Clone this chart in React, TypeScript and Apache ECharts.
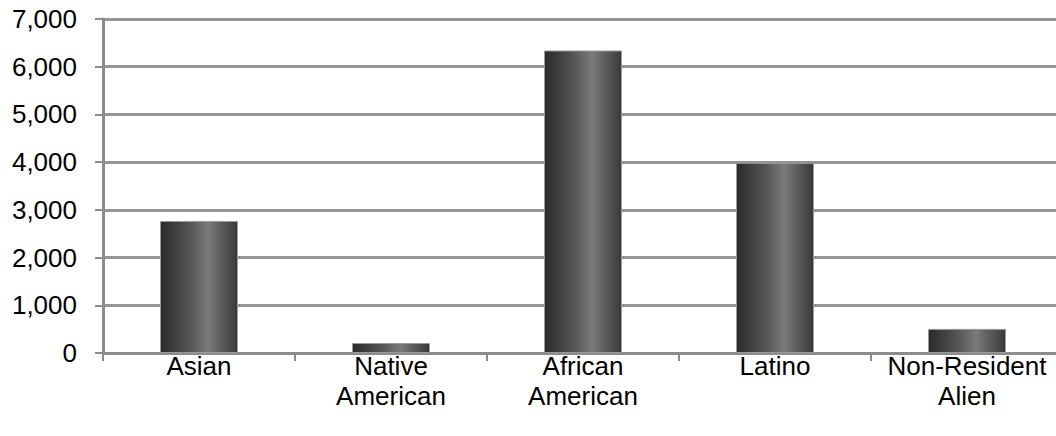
import React, { useEffect, useRef } from "react";
import * as echarts from "echarts";

// Enrollment by group
const categories = ["Asian", "Native\nAmerican", "African\nAmerican", "Latino", "Non-Resident\nAlien"];
const enrollment = [2767, 210, 6340, 3985, 505];
const yTicks = { min: 0, max: 7000, interval: 1000 };

const FONT = "'Liberation Sans', Arial, sans-serif";
const GRID_GRAY = "#8c8c8c";

export default function App() {
  const ref = useRef<HTMLDivElement>(null);

  useEffect(() => {
    if (!ref.current) return;
    const chart = echarts.init(ref.current, null, { renderer: "svg" });
    const barFill = new echarts.graphic.LinearGradient(0, 0, 1, 0, [
      { offset: 0, color: "#2a2a2a" },
      { offset: 0.35, color: "#525252" },
      { offset: 0.62, color: "#7a7a7a" },
      { offset: 0.9, color: "#4a4a4a" },
      { offset: 1, color: "#383838" },
    ]);
    chart.setOption({
      animation: false,
      backgroundColor: "#ffffff",
      grid: { left: 103, right: 7, top: 19, bottom: 83, containLabel: false },
      xAxis: {
        type: "category",
        data: categories,
        axisLine: { show: true, lineStyle: { color: GRID_GRAY, width: 3 } },
        axisTick: { show: true, length: 8, alignWithLabel: false, lineStyle: { color: GRID_GRAY, width: 2 } },
        axisLabel: {
          interval: 0,
          margin: -2,
          color: "#000",
          fontFamily: FONT,
          fontSize: 26,
          lineHeight: 30,
        },
      },
      yAxis: {
        type: "value",
        min: yTicks.min,
        max: yTicks.max,
        interval: yTicks.interval,
        axisLine: { show: true, lineStyle: { color: GRID_GRAY, width: 3 } },
        axisTick: { show: true, length: 8, lineStyle: { color: GRID_GRAY, width: 2 } },
        axisLabel: {
          margin: 26,
          color: "#000",
          fontFamily: FONT,
          fontSize: 26,
          formatter: (v: number) => v.toLocaleString("en-US"),
        },
        splitLine: {
          show: true,
          lineStyle: { color: "#959595", width: 3 },
        },
      },
      series: [
        {
          type: "bar",
          data: enrollment,
          barWidth: 78,
          itemStyle: {
            color: barFill,
            borderColor: "#9a9a9a",
            borderWidth: 1,
          },
        },
      ],
    });
    return () => chart.dispose();
  }, []);

  return (
    <div
      ref={ref}
      style={{ position: "fixed", left: 0, top: 0, width: 1070, height: 436, background: "#fff" }}
    />
  );
}
